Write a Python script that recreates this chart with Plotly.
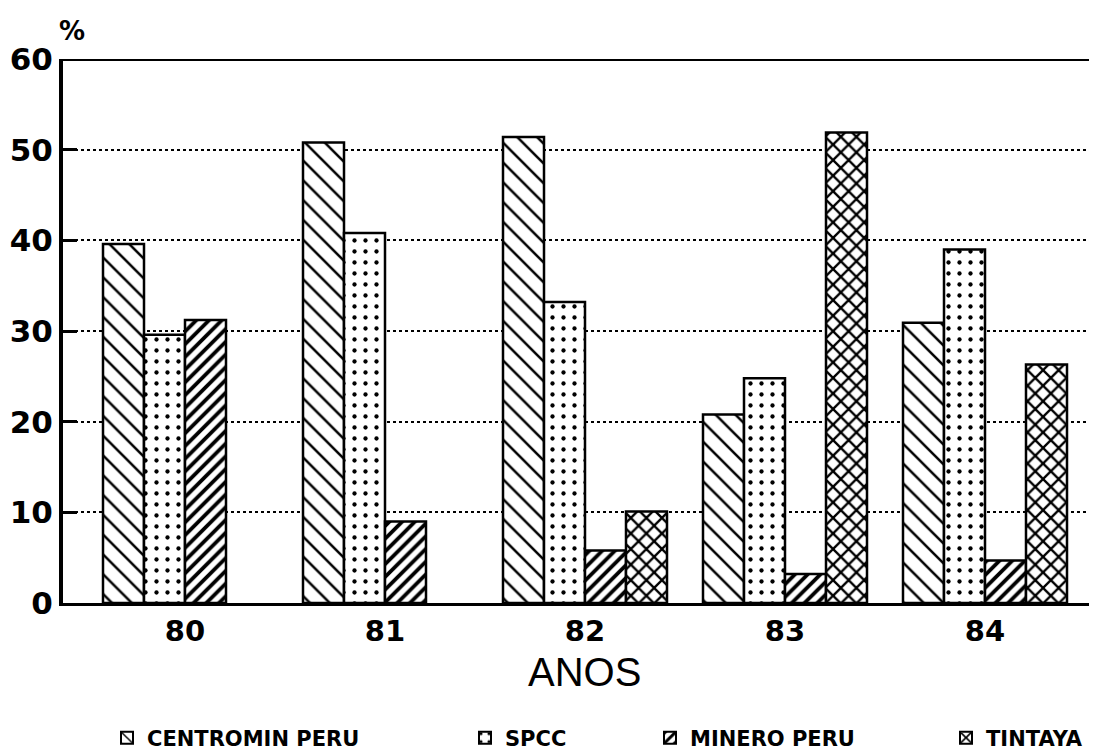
import plotly.graph_objects as go

years = ["80", "81", "82", "83", "84"]
centromin = [39.6, 50.8, 51.4, 20.8, 30.9]
spcc = [29.6, 40.8, 33.2, 24.8, 39.0]
minero = [31.2, 9.0, 5.8, 3.2, 4.7]
tintaya = [None, None, 10.1, 51.9, 26.3]
names = ["CENTROMIN PERU", "SPCC", "MINERO PERU", "TINTAYA"]
y_ticks = [0, 10, 20, 30, 40, 50, 60]

pos = list(range(len(years)))
series = [centromin, spcc, minero, tintaya]
patterns = [
    dict(shape="\\", size=14, solidity=0.18),
    dict(shape=".", size=11, solidity=0.12),
    dict(shape="/", size=9, solidity=0.42),
    dict(shape="x", size=11, solidity=0.38),
]
legends = ["legend", "legend2", "legend3", "legend4"]

fig = go.Figure()
for name, vals, pat, lg in zip(names, series, patterns, legends):
    fig.add_trace(go.Bar(
        x=pos, y=vals, name=name, legend=lg, showlegend=True,
        marker=dict(color="white", line=dict(color="black", width=2.5),
                    pattern=dict(fgcolor="black", bgcolor="white", fillmode="replace", **pat)),
    ))

# page body has an 8px margin: figure coords = screen coords - 8
OFF = 8
W, H = 1097, 753
font_bold = "DejaVu Sans"
leg_common = dict(orientation="h", yanchor="middle", y=(H - (738 - OFF)) / H, xanchor="left",
                  xref="container", yref="container",
                  font=dict(family=font_bold, size=21, color="black", weight="bold"),
                  bgcolor="rgba(0,0,0,0)", itemsizing="constant")

plot_l, plot_t, plot_b = 63 - OFF, 59 - OFF, 603 - OFF
plot_w = 1097 - 63
plot_h = plot_b - plot_t

fig.update_layout(
    width=W, height=H, showlegend=True,
    margin=dict(l=plot_l, r=W - plot_l - plot_w, t=plot_t, b=H - plot_b, autoexpand=False),
    paper_bgcolor="white", plot_bgcolor="white",
    barmode="group", bargap=0.18, bargroupgap=0,
    legend=dict(x=(147 - 40 - OFF) / W, **leg_common),
    legend2=dict(x=(505 - 40 - OFF) / W, **leg_common),
    legend3=dict(x=(690 - 40 - OFF) / W, **leg_common),
    legend4=dict(x=(986 - 40 - OFF) / W, **leg_common),
    xaxis=dict(
        range=[-0.61, 4.56], tickmode="array", tickvals=pos, ticktext=["<b>%s</b>" % y for y in years],
        showgrid=False, zeroline=False, showline=True, linecolor="black", linewidth=3,
        ticks="", tickfont=dict(family=font_bold, size=29, color="black"),
    ),
    yaxis=dict(
        range=[0, 60], tickmode="array", tickvals=y_ticks, ticktext=["<b>%d</b>" % v for v in y_ticks],
        showgrid=True, gridcolor="black", gridwidth=2.2, griddash="dot",
        zeroline=False, showline=True, linecolor="black", linewidth=4,
        ticks="inside", ticklen=14, tickwidth=2.5, tickcolor="black",
        tickfont=dict(family=font_bold, size=31, color="black"),
    ),
    annotations=[
        dict(text="<b>%</b>", x=-0.006, y=(plot_b - (31 - OFF)) / plot_h, xref="paper", yref="paper",
             xanchor="left", yanchor="middle", showarrow=False,
             font=dict(family=font_bold, size=26, color="black")),
        dict(text="ANOS", x=(584 - 63) / plot_w, y=(plot_b - (672 - OFF)) / plot_h, xref="paper",
             yref="paper", xanchor="center", yanchor="middle", showarrow=False,
             font=dict(family="Liberation Sans", size=40, color="black")),
    ],
    shapes=[
        dict(type="line", xref="paper", yref="y", x0=0, x1=1, y0=60, y1=60,
             line=dict(color="black", width=4)),
    ],
)

fig.write_html("out.html")
